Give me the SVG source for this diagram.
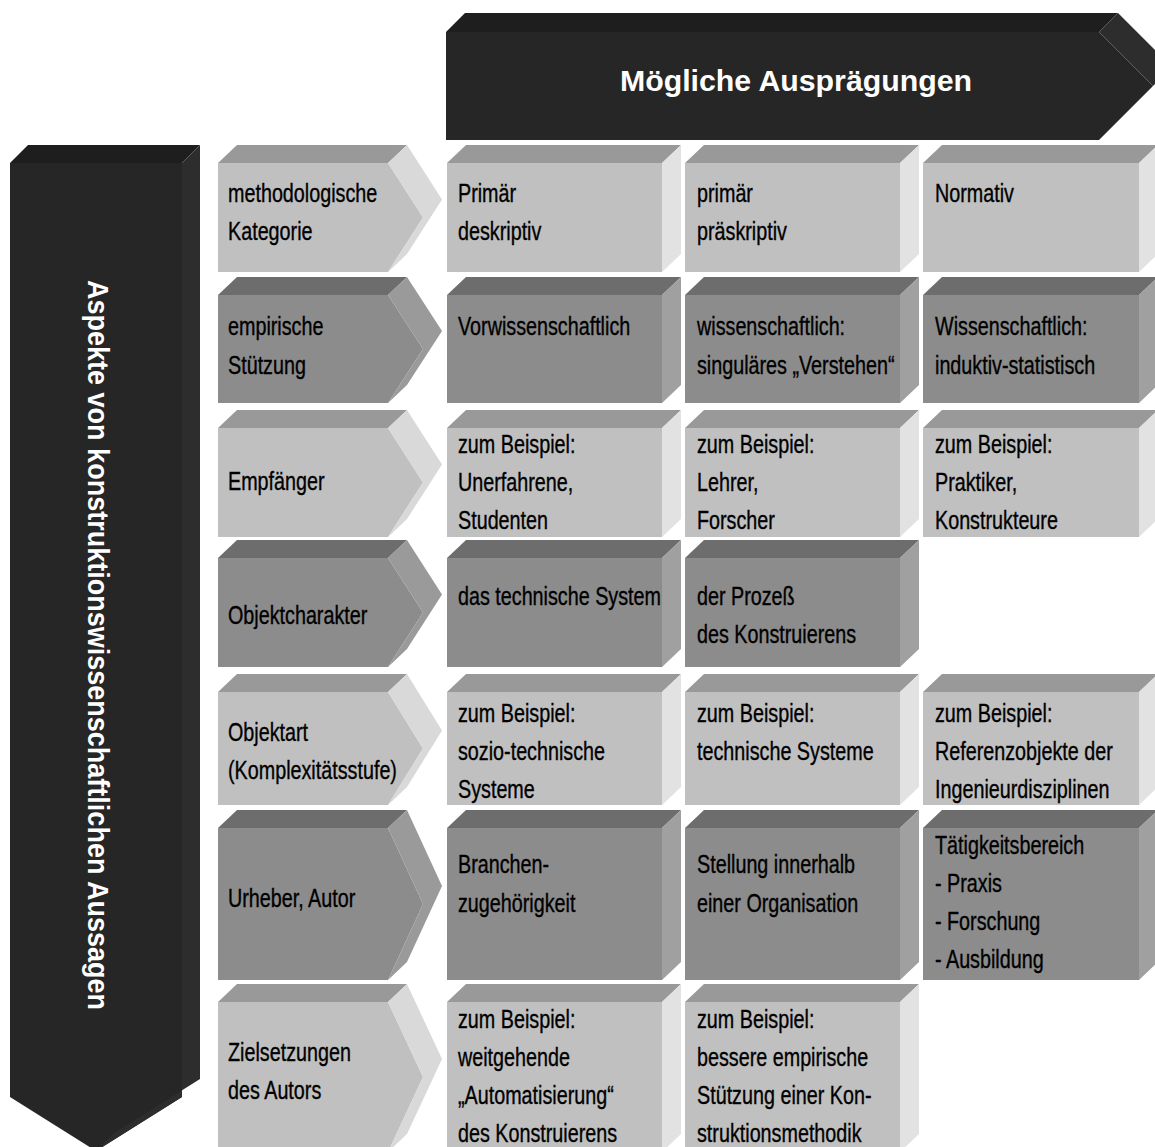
<svg xmlns="http://www.w3.org/2000/svg" width="1155" height="1147" viewBox="0 0 1155 1147">
<style>
.bf{fill:#262626}.bt{fill:#1e1e1e}.bs{fill:#2d2d2d}
.lf{fill:#c0c0c0}.lt{fill:#999999}.ls{fill:#e2e2e2}.lc{fill:#d9d9d9}
.df{fill:#8c8c8c}.dt{fill:#6d6d6d}.ds{fill:#a0a0a0}.dc{fill:#9a9a9a}
.t{font-family:"Liberation Sans",Arial,sans-serif;font-size:25px;fill:#000;stroke:#000;stroke-width:0.35px}
.h{font-family:"Liberation Sans",Arial,sans-serif;font-weight:bold;fill:#fff}
</style>
<rect width="1155" height="1147" fill="#fff"/>

<g id="header">
<polygon class="bf" points="446,32 1099,32 1153,86 1099,140 446,140"/>
<polygon class="bt" points="446,32 465,13 1118,13 1099,32"/>
<polygon class="bs" points="1099,32 1118,13 1172,67 1153,86"/>
<text class="h" x="796" y="91" font-size="29" text-anchor="middle" textLength="352" lengthAdjust="spacingAndGlyphs">Mögliche Ausprägungen</text>
</g>

<g id="aspects">
<polygon class="bf" points="10,163 182,163 182,1097 96,1151 10,1097"/>
<polygon class="bt" points="10,163 28,145 200,145 182,163"/>
<polygon class="bs" points="182,163 200,145 200,1079 114,1133 96,1151 182,1097"/>
<text class="h" transform="translate(88,280) rotate(90)" x="0" y="0" font-size="30" textLength="730" lengthAdjust="spacingAndGlyphs">Aspekte von konstruktionswissenschaftlichen Aussagen</text>
</g>

<g id="connectors"/>

<!-- Row 1 -->
<g id="r1-label">
<polygon class="lf" points="218,163 388,163 423,217.5 388,272 218,272"/>
<polygon class="lt" points="218,163 237,145 407,145 388,163"/>
<polygon class="lc" points="388,163 407,145 442,199.5 407,254 388,272 423,217.5"/>
<text class="t" transform="translate(228,0) scale(0.79,1)"><tspan x="0" y="202">methodologische</tspan><tspan x="0" y="240">Kategorie</tspan></text>
</g>
<g id="r1-c1">
<rect class="lf" x="447" y="163" width="215" height="109"/>
<polygon class="lt" points="447,163 466,145 681,145 662,163"/>
<polygon class="ls" points="662,163 681,145 681,254 662,272"/>
<text class="t" transform="translate(458,0) scale(0.79,1)"><tspan x="0" y="202">Primär</tspan><tspan x="0" y="240">deskriptiv</tspan></text>
</g>
<g id="r1-c2">
<rect class="lf" x="685" y="163" width="215" height="109"/>
<polygon class="lt" points="685,163 704,145 919,145 900,163"/>
<polygon class="ls" points="900,163 919,145 919,254 900,272"/>
<text class="t" transform="translate(697,0) scale(0.79,1)"><tspan x="0" y="202">primär</tspan><tspan x="0" y="240">präskriptiv</tspan></text>
</g>
<g id="r1-c3">
<rect class="lf" x="923" y="163" width="216" height="109"/>
<polygon class="lt" points="923,163 942,145 1158,145 1139,163"/>
<polygon class="ls" points="1139,163 1158,145 1158,254 1139,272"/>
<text class="t" transform="translate(935,0) scale(0.79,1)"><tspan x="0" y="202">Normativ</tspan></text>
</g>

<!-- Row 2 -->
<g id="r2-label">
<polygon class="df" points="218,295 388,295 423,349 388,403 218,403"/>
<polygon class="dt" points="218,295 237,277 407,277 388,295"/>
<polygon class="dc" points="388,295 407,277 442,331 407,385 388,403 423,349"/>
<text class="t" transform="translate(228,0) scale(0.79,1)"><tspan x="0" y="335">empirische</tspan><tspan x="0" y="374">Stützung</tspan></text>
</g>
<g id="r2-c1">
<rect class="df" x="447" y="295" width="215" height="108"/>
<polygon class="dt" points="447,295 466,277 681,277 662,295"/>
<polygon class="ds" points="662,295 681,277 681,385 662,403"/>
<text class="t" transform="translate(458,0) scale(0.79,1)"><tspan x="0" y="335">Vorwissenschaftlich</tspan></text>
</g>
<g id="r2-c2">
<rect class="df" x="685" y="295" width="215" height="108"/>
<polygon class="dt" points="685,295 704,277 919,277 900,295"/>
<polygon class="ds" points="900,295 919,277 919,385 900,403"/>
<text class="t" transform="translate(697,0) scale(0.79,1)"><tspan x="0" y="335">wissenschaftlich:</tspan><tspan x="0" y="374">singuläres „Verstehen“</tspan></text>
</g>
<g id="r2-c3">
<rect class="df" x="923" y="295" width="216" height="108"/>
<polygon class="dt" points="923,295 942,277 1158,277 1139,295"/>
<polygon class="ds" points="1139,295 1158,277 1158,385 1139,403"/>
<text class="t" transform="translate(935,0) scale(0.79,1)"><tspan x="0" y="335">Wissenschaftlich:</tspan><tspan x="0" y="374">induktiv-statistisch</tspan></text>
</g>

<!-- Row 3 -->
<g id="r3-label">
<polygon class="lf" points="218,428 388,428 423,482.5 388,537 218,537"/>
<polygon class="lt" points="218,428 237,410 407,410 388,428"/>
<polygon class="lc" points="388,428 407,410 442,464.5 407,519 388,537 423,482.5"/>
<text class="t" transform="translate(228,0) scale(0.79,1)"><tspan x="0" y="490">Empfänger</tspan></text>
</g>
<g id="r3-c1">
<rect class="lf" x="447" y="428" width="215" height="109"/>
<polygon class="lt" points="447,428 466,410 681,410 662,428"/>
<polygon class="ls" points="662,428 681,410 681,519 662,537"/>
<text class="t" transform="translate(458,0) scale(0.79,1)"><tspan x="0" y="453">zum Beispiel:</tspan><tspan x="0" y="491">Unerfahrene,</tspan><tspan x="0" y="529">Studenten</tspan></text>
</g>
<g id="r3-c2">
<rect class="lf" x="685" y="428" width="215" height="109"/>
<polygon class="lt" points="685,428 704,410 919,410 900,428"/>
<polygon class="ls" points="900,428 919,410 919,519 900,537"/>
<text class="t" transform="translate(697,0) scale(0.79,1)"><tspan x="0" y="453">zum Beispiel:</tspan><tspan x="0" y="491">Lehrer,</tspan><tspan x="0" y="529">Forscher</tspan></text>
</g>
<g id="r3-c3">
<rect class="lf" x="923" y="428" width="216" height="109"/>
<polygon class="lt" points="923,428 942,410 1158,410 1139,428"/>
<polygon class="ls" points="1139,428 1158,410 1158,519 1139,537"/>
<text class="t" transform="translate(935,0) scale(0.79,1)"><tspan x="0" y="453">zum Beispiel:</tspan><tspan x="0" y="491">Praktiker,</tspan><tspan x="0" y="529">Konstrukteure</tspan></text>
</g>

<!-- Row 4 -->
<g id="r4-label">
<polygon class="df" points="218,558 388,558 423,612.5 388,667 218,667"/>
<polygon class="dt" points="218,558 237,540 407,540 388,558"/>
<polygon class="dc" points="388,558 407,540 442,594.5 407,649 388,667 423,612.5"/>
<text class="t" transform="translate(228,0) scale(0.79,1)"><tspan x="0" y="624">Objektcharakter</tspan></text>
</g>
<g id="r4-c1">
<rect class="df" x="447" y="558" width="215" height="109"/>
<polygon class="dt" points="447,558 466,540 681,540 662,558"/>
<polygon class="ds" points="662,558 681,540 681,649 662,667"/>
<text class="t" transform="translate(458,0) scale(0.79,1)"><tspan x="0" y="605">das technische System</tspan></text>
</g>
<g id="r4-c2">
<rect class="df" x="685" y="558" width="215" height="109"/>
<polygon class="dt" points="685,558 704,540 919,540 900,558"/>
<polygon class="ds" points="900,558 919,540 919,649 900,667"/>
<text class="t" transform="translate(697,0) scale(0.79,1)"><tspan x="0" y="605">der Prozeß</tspan><tspan x="0" y="643">des Konstruierens</tspan></text>
</g>

<!-- Row 5 -->
<g id="r5-label">
<polygon class="lf" points="218,692 388,692 423,748.5 388,805 218,805"/>
<polygon class="lt" points="218,692 237,674 407,674 388,692"/>
<polygon class="lc" points="388,692 407,674 442,730.5 407,787 388,805 423,748.5"/>
<text class="t" transform="translate(228,0) scale(0.79,1)"><tspan x="0" y="741">Objektart</tspan><tspan x="0" y="779">(Komplexitätsstufe)</tspan></text>
</g>
<g id="r5-c1">
<rect class="lf" x="447" y="692" width="215" height="113"/>
<polygon class="lt" points="447,692 466,674 681,674 662,692"/>
<polygon class="ls" points="662,692 681,674 681,787 662,805"/>
<text class="t" transform="translate(458,0) scale(0.79,1)"><tspan x="0" y="722">zum Beispiel:</tspan><tspan x="0" y="760">sozio-technische</tspan><tspan x="0" y="798">Systeme</tspan></text>
</g>
<g id="r5-c2">
<rect class="lf" x="685" y="692" width="215" height="113"/>
<polygon class="lt" points="685,692 704,674 919,674 900,692"/>
<polygon class="ls" points="900,692 919,674 919,787 900,805"/>
<text class="t" transform="translate(697,0) scale(0.79,1)"><tspan x="0" y="722">zum Beispiel:</tspan><tspan x="0" y="760">technische Systeme</tspan></text>
</g>
<g id="r5-c3">
<rect class="lf" x="923" y="692" width="216" height="113"/>
<polygon class="lt" points="923,692 942,674 1158,674 1139,692"/>
<polygon class="ls" points="1139,692 1158,674 1158,787 1139,805"/>
<text class="t" transform="translate(935,0) scale(0.79,1)"><tspan x="0" y="722">zum Beispiel:</tspan><tspan x="0" y="760">Referenzobjekte der</tspan><tspan x="0" y="798">Ingenieurdisziplinen</tspan></text>
</g>

<!-- Row 6 -->
<g id="r6-label">
<polygon class="df" points="218,828 388,828 423,904 388,980 218,980"/>
<polygon class="dt" points="218,828 237,810 407,810 388,828"/>
<polygon class="dc" points="388,828 407,810 442,886 407,962 388,980 423,904"/>
<text class="t" transform="translate(228,0) scale(0.79,1)"><tspan x="0" y="907">Urheber, Autor</tspan></text>
</g>
<g id="r6-c1">
<rect class="df" x="447" y="828" width="215" height="152"/>
<polygon class="dt" points="447,828 466,810 681,810 662,828"/>
<polygon class="ds" points="662,828 681,810 681,962 662,980"/>
<text class="t" transform="translate(458,0) scale(0.79,1)"><tspan x="0" y="873">Branchen-</tspan><tspan x="0" y="912">zugehörigkeit</tspan></text>
</g>
<g id="r6-c2">
<rect class="df" x="685" y="828" width="215" height="152"/>
<polygon class="dt" points="685,828 704,810 919,810 900,828"/>
<polygon class="ds" points="900,828 919,810 919,962 900,980"/>
<text class="t" transform="translate(697,0) scale(0.79,1)"><tspan x="0" y="873">Stellung innerhalb</tspan><tspan x="0" y="912">einer Organisation</tspan></text>
</g>
<g id="r6-c3">
<rect class="df" x="923" y="828" width="216" height="152"/>
<polygon class="dt" points="923,828 942,810 1158,810 1139,828"/>
<polygon class="ds" points="1139,828 1158,810 1158,962 1139,980"/>
<text class="t" transform="translate(935,0) scale(0.79,1)"><tspan x="0" y="854">Tätigkeitsbereich</tspan><tspan x="0" y="892">- Praxis</tspan><tspan x="0" y="930">- Forschung</tspan><tspan x="0" y="968">- Ausbildung</tspan></text>
</g>

<!-- Row 7 -->
<g id="r7-label">
<polygon class="lf" points="218,1002 388,1002 423,1077 388,1152 218,1152"/>
<polygon class="lt" points="218,1002 237,984 407,984 388,1002"/>
<polygon class="lc" points="388,1002 407,984 442,1059 407,1134 388,1152 423,1077"/>
<text class="t" transform="translate(228,0) scale(0.79,1)"><tspan x="0" y="1061">Zielsetzungen</tspan><tspan x="0" y="1099">des Autors</tspan></text>
</g>
<g id="r7-c1">
<rect class="lf" x="447" y="1002" width="215" height="150"/>
<polygon class="lt" points="447,1002 466,984 681,984 662,1002"/>
<polygon class="ls" points="662,1002 681,984 681,1134 662,1152"/>
<text class="t" transform="translate(458,0) scale(0.79,1)"><tspan x="0" y="1028">zum Beispiel:</tspan><tspan x="0" y="1066">weitgehende</tspan><tspan x="0" y="1104">„Automatisierung“</tspan><tspan x="0" y="1142">des Konstruierens</tspan></text>
</g>
<g id="r7-c2">
<rect class="lf" x="685" y="1002" width="215" height="150"/>
<polygon class="lt" points="685,1002 704,984 919,984 900,1002"/>
<polygon class="ls" points="900,1002 919,984 919,1134 900,1152"/>
<text class="t" transform="translate(697,0) scale(0.79,1)"><tspan x="0" y="1028">zum Beispiel:</tspan><tspan x="0" y="1066">bessere empirische</tspan><tspan x="0" y="1104">Stützung einer Kon-</tspan><tspan x="0" y="1142">struktionsmethodik</tspan></text>
</g>
</svg>
